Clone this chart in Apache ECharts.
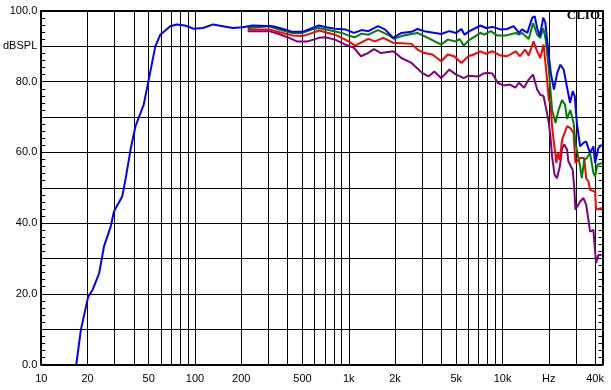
<!DOCTYPE html>
<html>
<head>
<meta charset="utf-8">
<script src="https://cdn.jsdelivr.net/npm/echarts@6/dist/echarts.min.js"></script>
<style>html,body{margin:0;padding:0;background:#fff}#c{width:611px;height:390px}</style>
</head>
<body>
<div id="c"></div>
<script>
// ---- data (frequency in Hz, level in dB SPL) ----
const blueFreq = [16.9,18.1,20.2,21.5,23.8,25.6,28.3,29.7,33.6,35.3,38.1,41.0,46.4,50,55.2,59.5,69,76,86,97.5,113,131,176,204,237,320,370,430,500,580,640,700,815,950,1080,1215,1340,1550,1720,1945,2200,2560,2800,3100,4000,4500,5000,5400,5660,6100,7200,7800,8600,9700,10700,11800,12800,13400,14500,15600,16200,16800,17500,18400,19000,19600,20600,21600,22700,23800,25000,26200,27500,28600,29500,30500,32000,33600,35000,37100,39000,40000,42000,44200];
const blueDb   = [0,9.8,19.2,21,25.8,33.4,39.0,43.3,47.5,52.3,60.8,67.4,73.5,80.6,90.0,93.3,95.7,96.2,95.9,95.0,95.2,96.2,95.2,95.4,95.9,95.7,95.0,94.1,94.1,95.2,95.9,95.5,95.0,94.8,93.8,94.6,94.3,95.7,94.8,92.4,93.8,94.1,94.9,94.3,93.5,94.3,93.8,94.9,93.3,94.3,95.9,95.2,95.5,94.8,94.9,95.7,93.8,94.8,93.8,98.1,98.5,95.2,92.9,98.1,96.7,91.0,82.5,77.8,82.5,84.8,83.4,78.7,74.0,77.3,75.9,68,61.7,62.7,63.1,59.8,61.7,57.0,61.2,62.2];

const greenFreq = [220,304,370,430,500,580,640,740,900,1020,1100,1215,1340,1550,1830,1970,2200,2560,2800,3100,4000,4400,5000,5250,5600,6000,7200,7600,8400,9200,10600,12200,12800,13400,14800,15800,16800,17600,18400,19100,20000,21000,22100,23200,24400,25500,26300,27600,29000,29800,32000,32800,34000,35400,37100,39000,40000,41400,44200];
const greenDb   = [95.2,95.7,94.5,93.8,93.8,94.8,95.2,94.6,93.8,92.9,92.6,93.6,93.3,94.6,93.1,92.1,92.9,93.5,93.8,92.9,90.5,91.9,91.4,92.1,90.2,91.6,93.8,93.3,94.3,93.1,93.1,93.8,93.3,93.8,92.1,96.6,93.3,92.4,95.2,91.9,83.4,72.1,68.3,72.1,74.8,73.5,69.5,72.0,68.3,62.7,56.0,52.7,57.9,58.4,59.8,54.2,53.2,56.5,57.0];

const redFreq = [220,304,370,430,500,580,640,815,1000,1100,1340,1480,1680,1950,2560,2800,3100,3500,4000,4400,4850,5400,6000,6500,7200,7800,8600,9700,10700,12200,13000,14000,14800,15900,16800,17600,18500,19300,20000,20500,21000,21600,22400,22900,23600,24400,26300,27600,29000,29800,32000,34000,35000,36200,37100,40000,40600,44200];
const redDb   = [94.8,94.8,93.8,93.1,92.9,93.8,94.5,93.3,91.4,90.2,92.1,91.4,92.4,91.0,90.7,89.1,88.1,87.7,85.8,87.7,87.2,85.3,87.2,87.7,88.6,87.9,88.6,87.4,87.2,88.6,87.2,89.1,87.4,91.4,88.6,86.7,90.5,82.5,74.9,74.0,67.4,62.7,57.0,59.8,57.9,63.6,67.4,66.9,65.5,57.0,58.4,58.4,52.7,51.8,49.4,48.9,43.8,44.3];

const purpleFreq = [220,304,350,410,460,540,640,700,815,950,1080,1200,1330,1460,1620,1950,2200,2560,3000,3300,3600,4000,4500,5000,5600,6000,7000,7500,8100,8600,9300,10200,11200,12100,12800,13800,14800,15800,16800,17600,18500,19500,20000,20500,21000,21800,22600,23600,24400,25200,26300,26800,27600,28600,29300,29800,32000,33600,35000,36200,37100,39000,40000,40600,42000,44200];
const purpleDb   = [94.3,94.3,93.5,92.4,91.4,91.4,92.4,92.6,91.9,90.5,89.6,87.2,88.1,89.2,88.1,88.6,86.7,85.3,82.5,81.5,82.9,81.0,83.4,82.0,81.0,81.7,81.5,82.3,82.5,82.3,79.7,78.9,79.2,78.3,79.7,78.3,80.6,82.0,77.8,76.3,75.9,71.0,68.3,64.5,58.9,53.7,52.7,56.0,61.2,62.2,60.8,57.5,57.0,55.1,49.9,43.8,46.1,47.1,45.2,40.9,37.6,38.1,37.6,28.7,31.0,31.0];

// axis ticks
const xGridFreqs = [10,20,30,40,50,60,70,80,90,100,200,300,400,500,600,700,800,900,1000,2000,3000,4000,5000,6000,7000,8000,9000,10000,20000,30000,40000];
const xLabelFreqs = [10,20,50,100,200,500,1000,2000,5000,10000,20000,40000];
const xLabelTexts = ['10','20','50','100','200','500','1k','2k','5k','10k','Hz','40k'];
const xMinFreq = 10, xMaxFreq = 44700;
const yMin = 0, yMax = 100, yStep = 10;

// ---- build ----
const L = Math.log10;
function pairs(f, d) { return f.map((v, i) => [L(v), d[i]]); }

const chart = echarts.init(document.getElementById('c'), null, {renderer: 'canvas'});
const axisFont = {fontFamily: 'Liberation Sans, Arial, sans-serif', fontSize: 11, color: '#000'};

function lineSeries(name, f, d, color) {
  return {
    name, type: 'line', data: pairs(f, d), showSymbol: false, symbol: 'none',
    lineStyle: {color, width: 2}, itemStyle: {color}, animation: false, z: 3
  };
}

chart.setOption({
  animation: false,
  backgroundColor: '#fff',
  grid: {left: 37, right: 8.5, top: 11, bottom: 25.5, containLabel: false},
  graphic: [{
    type: 'text', right: 11, top: 9, z: 10,
    style: {text: 'CLIO', font: 'bold 13px "Liberation Serif", "DejaVu Serif", serif', fill: '#000'}
  }],
  xAxis: [{
    type: 'value', position: 'bottom', min: L(xMinFreq), max: L(xMaxFreq),
    axisLine: {show: true, onZero: false, lineStyle: {color: '#000', width: 2}},
    axisTick: {show: false, customValues: xGridFreqs.map(L)},
    splitLine: {show: true, lineStyle: {color: '#000', width: 1}},
    axisLabel: {
      ...axisFont, margin: 9, showMinLabel: true, showMaxLabel: true,
      align: 'center', alignMinLabel: 'center', alignMaxLabel: 'center', hideOverlap: false,
      customValues: xLabelFreqs.map(L),
      formatter: v => {
        let best = 0, bd = 1e9;
        xLabelFreqs.forEach((f, i) => { const d = Math.abs(L(f) - v); if (d < bd) { bd = d; best = i; } });
        return xLabelTexts[best];
      }
    }
  }, {
    type: 'value', position: 'top', min: L(xMinFreq), max: L(xMaxFreq),
    axisLine: {show: true, onZero: false, lineStyle: {color: '#000', width: 2}},
    axisTick: {show: false}, axisLabel: {show: false}, splitLine: {show: false}
  }],
  yAxis: [{
    type: 'value', position: 'left', min: yMin, max: yMax, interval: yStep,
    axisLine: {show: true, onZero: false, lineStyle: {color: '#000', width: 2}},
    axisTick: {show: false, inside: true},
    minorTick: {show: true, splitNumber: 5, length: 4, lineStyle: {color: '#000', width: 1}},
    splitLine: {show: true, lineStyle: {color: '#000', width: 1}},
    axisLabel: {
      ...axisFont, margin: 4, align: 'right', verticalAlign: 'middle',
      formatter: v => (Math.round(v) % 20 === 0 ? v.toFixed(1) : (Math.round(v) === 90 ? 'dBSPL' : ''))
    }
  }, {
    type: 'value', position: 'right', min: yMin, max: yMax, interval: yStep,
    axisLine: {show: true, onZero: false, lineStyle: {color: '#000', width: 2}},
    axisTick: {show: false, inside: true},
    minorTick: {show: true, splitNumber: 5, length: 4, lineStyle: {color: '#000', width: 1}},
    splitLine: {show: false}, axisLabel: {show: false}
  }],
  series: [
    lineSeries('purple', purpleFreq, purpleDb, '#800080'),
    lineSeries('red', redFreq, redDb, '#ff0000'),
    lineSeries('green', greenFreq, greenDb, '#008000'),
    lineSeries('blue', blueFreq, blueDb, '#0000ff')
  ]
});
</script>
</body>
</html>
